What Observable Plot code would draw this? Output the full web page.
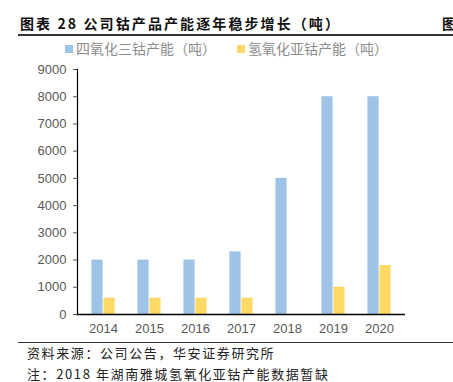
<!DOCTYPE html>
<html><head><meta charset="utf-8">
<script src="https://cdn.jsdelivr.net/npm/d3@7"></script>
<script src="https://cdn.jsdelivr.net/npm/@observablehq/plot@0.6"></script>
<style>
body{margin:0;width:453px;height:382px;overflow:hidden;background:#fff;position:relative;font-family:"Noto Sans CJK SC","Liberation Sans",sans-serif;}
.abs{position:absolute;white-space:nowrap;}
#title{left:20px;top:13px;font-size:14px;font-weight:bold;color:#111;letter-spacing:2.1px;}
#title2{left:442px;top:13px;font-size:14px;font-weight:bold;color:#111;}
.rule{position:absolute;left:18px;right:0;height:1.5px;background:#333;}
.leg{top:38px;font-size:14px;color:#8c8c8c;line-height:20px;}
.sw{display:inline-block;width:8px;height:8px;margin-right:3px;vertical-align:1px;}
.foot{left:27px;font-size:13px;color:#222;letter-spacing:1.6px;line-height:16px;}
#chart{position:absolute;left:0;top:60px;}
</style></head><body>
<div id="title" class="abs">图表 28 公司钴产品产能逐年稳步增长（吨）</div>
<div id="title2" class="abs">图</div>
<div class="rule" style="top:34px"></div>
<div id="legend"></div>
<div id="chart"></div>
<div class="rule" style="top:342px;height:1.2px"></div>
<div class="abs foot" style="top:345px">资料来源：公司公告，华安证券研究所</div>
<div class="abs foot" style="top:366px">注：2018 年湖南雅城氢氧化亚钴产能数据暂缺</div>
<script>
const years = ["2014","2015","2016","2017","2018","2019","2020"];
const co3o4 = [2000,2000,2000,2300,5000,8000,8000];
const cooh2 = [600,600,600,600,0,1000,1800];
const seriesNames = ["四氧化三钴产能（吨）","氢氧化亚钴产能（吨）"];
const colors = ["#9DC3E6","#FFD966"];
const yTicks = [0,1000,2000,3000,4000,5000,6000,7000,8000,9000];

const legend = document.getElementById("legend");
const legX = [65, 237];
seriesNames.forEach((n,i)=>{
  const d = document.createElement("div");
  d.className = "abs leg";
  d.style.left = legX[i] + "px";
  d.innerHTML = `<span class="sw" style="background:${colors[i]}"></span>${n}`;
  legend.appendChild(d);
});

const data = years.map((y,i)=>({year:y, a:co3o4[i], b:cooh2[i]}));
const half = (405-77)/years.length/2;
const bw = 12;
const plot = Plot.plot({
  width: 453, height: 280,
  marginLeft: 77, marginRight: 48, marginTop: 9, marginBottom: 26,
  style: {fontFamily: "'Liberation Sans', Arial, sans-serif", fontSize: "13px", color: "#595959", background: "transparent"},
  x: {domain: years, padding: 0, label: null, tickSize: 0, tickPadding: 9},
  y: {domain: [0, 9000], ticks: yTicks, tickFormat: "d", label: null, tickSize: 4, tickPadding: 7},
  marks: [
    Plot.barY(data, {x: "year", y: "a", fill: colors[0], insetLeft: half - bw, insetRight: half}),
    Plot.barY(data, {x: "year", y: "b", fill: colors[1], insetLeft: half, insetRight: half - bw}),
    Plot.ruleY([0], {stroke: "#000", strokeWidth: 1.5}),
    Plot.frame({anchor: "left", stroke: "#000", strokeWidth: 1.2})
  ]
});
document.getElementById("chart").appendChild(plot);
</script>
</body></html>
